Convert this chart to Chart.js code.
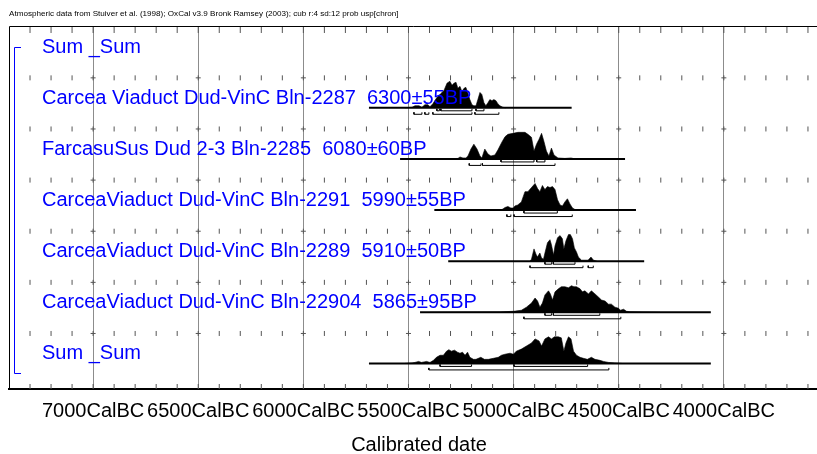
<!DOCTYPE html>
<html><head><meta charset="utf-8">
<script src="https://cdn.jsdelivr.net/npm/chart.js@4.4.0/dist/chart.umd.min.js"></script>
<style>html,body{margin:0;padding:0;background:#fff;overflow:hidden}#wrap{width:817px;height:454px;position:relative}</style>
</head><body><div id="wrap"><canvas id="c"></canvas></div>
<script>
const headerText = "Atmospheric data from Stuiver et al. (1998); OxCal v3.9 Bronk Ramsey (2003); cub r:4 sd:12 prob usp[chron]";
const axisTitle = "Calibrated date";
const rowLabels = [
  "Sum _Sum",
  "Carcea Viaduct Dud-VinC Bln-2287  6300\u00b155BP",
  "FarcasuSus Dud 2-3 Bln-2285  6080\u00b160BP",
  "CarceaViaduct Dud-VinC Bln-2291  5990\u00b155BP",
  "CarceaViaduct Dud-VinC Bln-2289  5910\u00b150BP",
  "CarceaViaduct Dud-VinC Bln-22904  5865\u00b195BP",
  "Sum _Sum"
];
const xTickYears = [7000, 6500, 6000, 5500, 5000, 4500, 4000];
const minorTickYears = [7300,7200,7100,7000,6900,6800,6700,6600,6500,6400,6300,6200,6100,6000,5900,5800,5700,5600,5500,5400,5300,5200,5100,5000,4900,4800,4700,4600,4500,4400,4300,4200,4100,4000,3900,3800,3700,3600];

// Row 1: Bln-2287 6300±55BP
const r1Years = [5517,5483,5469,5450,5436,5422,5407,5398,5384,5365,5346,5331,5317,5303,5293,5284,5274,5265,5255,5246,5236,5227,5217,5208,5198,5189,5179,5170,5160,5151,5141,5132,5122,5113,5103,5094,5084,5075,5065,5051,5037];
const r1Prob  = [0,0.5,2,2,0.5,3,3,1,4,10,14,17,24,26,22,24,25,19,21,16,19,20,14,8,3,2,2,8,15,13,5,2,5,8,7,8,7,4,2,0.5,0];
const r1Span = [5688, 4724];
const r1Hpd68 = [[5365,5353],[5346,5198],[5179,5141]];
const r1Hpd95 = [[5474,5436],[5422,5403],[5384,5198],[5184,5070]];

// Row 2: Bln-2285 6080±60BP
const r2Years = [5326,5265,5255,5241,5227,5217,5203,5189,5174,5160,5151,5137,5122,5108,5089,5075,5056,5041,5027,5003,4979,4946,4932,4915,4903,4891,4879,4867,4856,4844,4832,4820,4808,4789,4756,4727,4708];
const r2Prob  = [0,0.5,2,1,1,3,10,15,10,3,1,10,5,3,4,9,17,22.5,25,26,27,27,25,22,8,15,20,26,18,8,3,11,4,1,0.5,1,0];
const r2Span = [5540, 4470];
const r2Hpd68 = [[5060,4903],[4890,4851]];
const r2Hpd95 = [[5211,5155],[5148,4803]];

// Row 3: Bln-2291 5990±55BP
const r3Years = [5065,5051,5041,5027,5013,5001,4994,4980,4963,4946,4932,4915,4898,4886,4875,4863,4851,4839,4827,4815,4803,4791,4779,4768,4756,4744,4732,4720,4708,4684];
const r3Prob  = [0,1,2.5,3.5,2,2,4,5,8,18,18,22,26,21,18,24,20,23,22,23,20,10,5,4,8,11,6,2,0.5,0];
const r3Span = [5377, 4418];
const r3Hpd68 = [[4951,4792]];
const r3Hpd95 = [[5032,5013],[4998,4721]];

// Row 4: Bln-2289 5910±50BP
const r4Years = [4922,4915,4903,4894,4887,4875,4867,4858,4851,4839,4827,4820,4810,4803,4791,4779,4768,4761,4751,4739,4730,4720,4711,4701,4692,4677,4646,4632,4620,4604];
const r4Prob  = [0,2,12,7,4,8,3,2,8,18,21,16,6,15,23,25,22,12,20,26,26,22,13,9,4,1,1,4,1,0];
const r4Span = [5311, 4379];
const r4Hpd68 = [[4851,4819],[4811,4708]];
const r4Hpd95 = [[4922,4670],[4645,4621]];

// Row 5: Bln-22904 5865±95BP
const r5Years = [5398,5065,5001,4963,4939,4915,4898,4886,4875,4863,4851,4834,4825,4815,4803,4787,4773,4756,4739,4725,4713,4701,4684,4673,4661,4644,4630,4613,4597,4582,4565,4549,4535,4518,4501,4492,4477,4463,4447,4385,4304];
const r5Prob  = [0,0.4,1,2,5,9,14,11,5,9,17,21,18,12,20,23,25,25,24,26,25,25,23,20,21,18,21,18,15,12,11,8,8,5,4,2,3,1,0.5,0.3,0];
const r5Span = [5445, 4062];
const r5Hpd68 = [[4851,4820],[4811,4590]];
const r5Hpd95 = [[4951,4490]];

// Row 6: Sum
const r6Years = [5517,5483,5469,5452,5438,5414,5398,5381,5367,5350,5334,5319,5308,5296,5281,5267,5255,5243,5231,5219,5208,5191,5179,5156,5139,5120,5096,5073,5058,5041,5017,5001,4987,4963,4939,4915,4898,4879,4867,4851,4834,4820,4806,4787,4773,4761,4751,4739,4727,4715,4701,4684,4668,4649,4630,4613,4589,4573,4549,4518,4485];
const r6Prob  = [0,0.5,1,2,1,2,1,3,6,8,8,12,13.5,12,13,11,10,11,8,11,6,4,4,6,4,4,5,6,8,9,10,9,12,14,17,20,24,22,17,24,26,24,26,26,25,12,20,26,24,12,8,6,5,4,6,4,3,2,1,0.5,0];
const r6Span = [5688, 4062];
const r6Hpd68 = [[5350,5200],[4998,4648]];
const r6Hpd95 = [[5403,4547]];

const rows = [
  null,
  {years:r1Years, prob:r1Prob, span:r1Span, h68:r1Hpd68, h95:r1Hpd95},
  {years:r2Years, prob:r2Prob, span:r2Span, h68:r2Hpd68, h95:r2Hpd95},
  {years:r3Years, prob:r3Prob, span:r3Span, h68:r3Hpd68, h95:r3Hpd95},
  {years:r4Years, prob:r4Prob, span:r4Span, h68:r4Hpd68, h95:r4Hpd95},
  {years:r5Years, prob:r5Prob, span:r5Span, h68:r5Hpd68, h95:r5Hpd95},
  {years:r6Years, prob:r6Prob, span:r6Span, h68:r6Hpd68, h95:r6Hpd95}
];

const NROW = rowLabels.length;
const baseOf = k => (NROW - 1) - k;
const UNIT = 51.2;           // px per row unit (for converting small offsets)
const PEAK = 0.52;
const YMIN = -0.5, YMAX = 6.6;

const datasets = [];
const blank = {pointRadius:0, pointHoverRadius:0, tension:0, fill:false};

rows.forEach((r, k) => {
  if (!r) return;
  const base = baseOf(k);
  const pmax = Math.max(...r.prob);
  datasets.push(Object.assign({}, blank, {
    data: r.years.map((yr, i) => ({x: yr, y: base + PEAK * r.prob[i] / pmax})),
    fill: {value: base}, backgroundColor: '#000', borderColor: '#000', borderWidth: 0.6
  }));
  datasets.push(Object.assign({}, blank, {
    data: [{x: r.span[0], y: base}, {x: r.span[1], y: base}],
    borderColor: '#000', borderWidth: 2
  }));
  const bracket = (ranges, offPx) => {
    const yy = base - offPx / UNIT, tk = 2 / UNIT, pts = [];
    ranges.forEach(([a, b]) => {
      pts.push({x: a, y: yy + tk}, {x: a, y: yy}, {x: b, y: yy}, {x: b, y: yy + tk}, {x: (a + b) / 2, y: null});
    });
    return pts;
  };
  datasets.push(Object.assign({}, blank, {data: bracket(r.h68, 3), borderColor: '#000', borderWidth: 1}));
  datasets.push(Object.assign({}, blank, {data: bracket(r.h95, 6.5), borderColor: '#000', borderWidth: 1}));
});

// tick rows
const tickStyle = {showLine: false, pointStyle: 'line', pointBorderColor: '#555', pointBackgroundColor: '#555', pointBorderWidth: 1, pointHoverRadius: 0};
datasets.push(Object.assign({}, tickStyle, {pointRotation: 90, pointRadius: 3.5,
  data: minorTickYears.map(v => ({x: v, y: YMAX - 3.5 / UNIT}))}));
for (let k = 1; k < NROW; k++) {
  const yy = baseOf(k) + 30 / UNIT;
  datasets.push(Object.assign({}, tickStyle, {pointRotation: 90, pointRadius: 2.5,
    data: minorTickYears.map(v => ({x: v, y: yy}))}));
  datasets.push(Object.assign({}, tickStyle, {pointRotation: 0, pointRadius: 2.5,
    data: xTickYears.map(v => ({x: v, y: yy}))}));
}
datasets.push(Object.assign({}, tickStyle, {pointRotation: 90, pointRadius: 2.5,
  data: minorTickYears.map(v => ({x: v, y: YMIN + 2.5 / UNIT}))}));

const FONT = '"Liberation Sans", Arial, Helvetica, sans-serif';

const decor = {
  id: 'decor',
  afterDatasetsDraw(chart) {
    const {ctx, chartArea: a, scales: {y}} = chart;
    ctx.save();
    ctx.strokeStyle = '#000'; ctx.lineWidth = 1;
    ctx.beginPath();
    ctx.moveTo(a.left + 0.5, a.bottom); ctx.lineTo(a.left + 0.5, a.top + 0.5); ctx.lineTo(a.right, a.top + 0.5);
    ctx.stroke();
    ctx.fillStyle = '#000'; ctx.font = '8.1px ' + FONT; ctx.textBaseline = 'middle'; ctx.textAlign = 'left';
    ctx.fillText(headerText, a.left, 14);
    ctx.font = '20px ' + FONT; ctx.textAlign = 'center';
    ctx.fillText(axisTitle, a.left + 410, a.bottom + 56);
    ctx.textAlign = 'left';
    ctx.fillStyle = '#0000ff'; ctx.font = '20px ' + FONT; ctx.textBaseline = 'alphabetic';
    rowLabels.forEach((t, k) => ctx.fillText(t, a.left + 33, y.getPixelForValue(baseOf(k)) - 4));
    ctx.strokeStyle = '#0000ff'; ctx.lineWidth = 1;
    const yt = Math.round(y.getPixelForValue(YMAX - 0.41)) + 0.5, yb = Math.round(y.getPixelForValue(-0.18)) + 0.5;
    ctx.beginPath();
    ctx.moveTo(a.left + 12, yt); ctx.lineTo(a.left + 5.5, yt); ctx.lineTo(a.left + 5.5, yb); ctx.lineTo(a.left + 12, yb);
    ctx.stroke();
    ctx.restore();
  }
};

new Chart(document.getElementById('c'), {
  type: 'line',
  data: {datasets},
  plugins: [decor],
  options: {
    responsive: true, maintainAspectRatio: false, animation: false, events: [],
    layout: {autoPadding: false, padding: {left: 9, right: 0, top: 26, bottom: 21}},
    plugins: {legend: {display: false}, tooltip: {enabled: false}, title: {display: false}},
    scales: {
      x: {
        type: 'linear', reverse: true, min: 3557, max: 7400, z: 1,
        afterBuildTicks: s => { s.ticks = xTickYears.map(v => ({value: v})); },
        ticks: {callback: v => v + 'CalBC', color: '#000', font: {family: FONT, size: 20, lineHeight: 1}, padding: 12, maxRotation: 0, autoSkip: false},
        grid: {color: '#8c8c8c', lineWidth: 1, drawTicks: false},
        border: {display: true, color: '#000', width: 2},
        title: {display: false}
      },
      y: {type: 'linear', display: false, min: YMIN, max: YMAX}
    }
  }
});
</script></body></html>
